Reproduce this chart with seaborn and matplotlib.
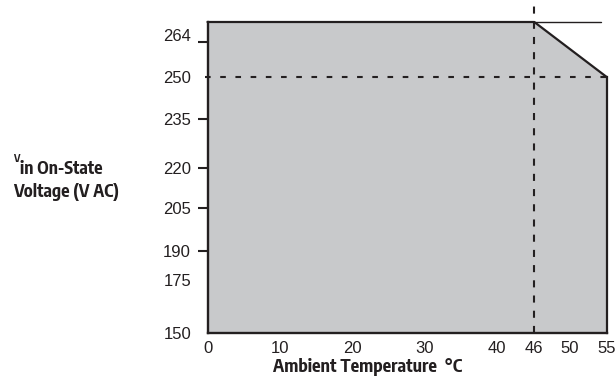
import numpy as np
import pandas as pd
import seaborn as sns
import matplotlib
matplotlib.use("Agg")
import matplotlib.pyplot as plt
from matplotlib import font_manager
from matplotlib.font_manager import FontProperties
from matplotlib.textpath import TextPath
from matplotlib.transforms import ScaledTranslation

# ---------------- data ----------------
temp_c = [0, 46, 55]            # derating envelope, ambient temperature (°C)
v_max = [272, 272, 250]         # max on-state voltage (V AC)
ext_temp = [46, 54.2]           # continuation of the top line past the knee
ext_v = [272, 272]
derate_temp = 46
derate_v = 250
v_floor = 150
x_ticks = [0, 10, 20, 30, 40, 46, 50, 55]
x_marked = [10, 20, 30, 40, 50]
y_ticks = [150, 175, 190, 205, 220, 235, 250, 264]
y_marked = [190, 205, 220, 235, 264]
x_title = 'Ambient Temperature  °C'
y_title_sup = 'V'
y_title_1 = 'in On-State'
y_title_2 = 'Voltage (V AC)'

# ---------------- style ----------------
sns.set_theme(style="white")
plt.rcParams['font.family'] = ['Liberation Sans', 'DejaVu Sans']
INK = '#231f20'
FILL = '#c8c9cb'
PX = 100 / 72.0


def _ext(fname, text, size=10.0):
    tp = TextPath((0, 0), text, size=size, prop=FontProperties(fname=fname))
    e = tp.get_extents()
    return e.width * PX, e.height * PX


def pick_bold_font(target_text, target_w, target_cap):
    best = None
    seen = set()
    for f in font_manager.fontManager.ttflist:
        tag = (f.name + ' ' + f.fname).lower()
        if f.fname in seen or 'cjk' in tag or 'mono' in tag or 'italic' in tag \
                or 'oblique' in tag or f.style != 'normal':
            continue
        if 'serif' in tag.replace('sans', ''):
            continue
        try:
            w = int(f.weight)
        except Exception:
            w = {'bold': 700, 'semibold': 600, 'heavy': 800, 'black': 900}.get(str(f.weight).lower(), 400)
        if w < 600 or w > 800:
            continue
        seen.add(f.fname)
        try:
            _, cap = _ext(f.fname, 'H')
            wid, _ = _ext(f.fname, target_text)
        except Exception:
            continue
        if cap <= 0 or wid <= 0:
            continue
        size_cap = 10.0 * target_cap / cap
        wid_at = wid * size_cap / 10.0
        score = abs(np.log(wid_at / target_w))
        if best is None or score < best[0]:
            best = (score, f.fname, wid)
    return best


_best = pick_bold_font(y_title_2, 105.0, 13.0)


def bold_fp(text, target_w):
    if _best is None:
        return FontProperties(family='DejaVu Sans', weight='bold', size=10)
    fname = _best[1]
    wid, _ = _ext(fname, text)
    return FontProperties(fname=fname, size=10.0 * target_w / wid)


# piecewise axis layouts (the original chart is not drawn to a linear scale)
xa_v = np.array([-100, 0, 10, 20, 30, 40, 46, 50, 55, 200], float)
xa_p = np.array([-720, 0, 72, 144.5, 217.5, 289.2, 326.8, 362.5, 399.2, 399.2 + 145 * 7.3])
ya_v = np.array([0, 150, 175, 190, 205, 220, 235, 250, 264, 272, 400], float)
ya_p = np.array([-375, 0, 53, 82.3, 124.7, 165.3, 214.3, 256, 291, 311, 311 + 128 * 2.5])

fx = lambda v: np.interp(v, xa_v, xa_p)
fxi = lambda p: np.interp(p, xa_p, xa_v)
fy = lambda v: np.interp(v, ya_v, ya_p)
fyi = lambda p: np.interp(p, ya_p, ya_v)

W, H = 615, 377
fig = plt.figure(figsize=(W / 100, H / 100), dpi=100)
fig.patch.set_facecolor('white')
ax = fig.add_axes([207.5 / W, 44 / H, 399.2 / W, 328.5 / H])
ax.set_facecolor('white')
ax.set_xscale('function', functions=(fx, fxi))
ax.set_yscale('function', functions=(fy, fyi))
ax.set_xlim(0, 55)
ax.set_ylim(150, 279)

# gray operating area
ax.fill_between(temp_c, v_floor, v_max, color=FILL, lw=0, zorder=1)

# envelope line
sns.lineplot(x=temp_c, y=v_max, ax=ax, color=INK, lw=1.6, sort=False,
             estimator=None, zorder=4, clip_on=False)
sns.lineplot(x=ext_temp, y=ext_v, ax=ax, color=INK, lw=1.0, sort=False,
             estimator=None, zorder=4, clip_on=False)
# right edge of the area
ax.plot([temp_c[-1], temp_c[-1]], [v_floor, v_max[-1]], color=INK, lw=1.6,
        clip_on=False, zorder=4, solid_capstyle='projecting')

# dashed reference lines
ax.plot([-0.3, temp_c[-1]], [derate_v, derate_v], color=INK, lw=1.5,
        linestyle=(0, (2.7, 4.6)), clip_on=False, zorder=3)
ax.plot([derate_temp, derate_temp], [v_floor, 278.4], color=INK, lw=1.5,
        linestyle=(0, (3.4, 3.9)), clip_on=False, zorder=3)

# spines
for s in ['top', 'right']:
    ax.spines[s].set_visible(False)
for s in ['left', 'bottom']:
    ax.spines[s].set_color(INK)
    ax.spines[s].set_linewidth(1.7)
    ax.spines[s].set_zorder(5)
ax.spines['left'].set_bounds(150, 272)

# ticks
x_minor = [t for t in x_ticks if t not in x_marked]
y_minor = [t for t in y_ticks if t not in y_marked]
ax.set_xticks(x_marked, labels=[str(t) for t in x_marked])
ax.set_xticks(x_minor, labels=[str(t) for t in x_minor], minor=True)
ax.set_yticks(y_marked, labels=[str(t) for t in y_marked])
ax.set_yticks(y_minor, labels=[str(t) for t in y_minor], minor=True)

TS = 12
ax.tick_params(axis='x', which='major', direction='in', length=8.6, width=1.5,
               color=INK, pad=5.8, labelsize=TS, labelcolor=INK, bottom=True)
ax.tick_params(axis='x', which='minor', direction='in', length=0, pad=5.8,
               labelsize=TS, labelcolor=INK, bottom=True)
ax.tick_params(axis='y', which='major', direction='inout', length=14.4, width=1.5,
               color=INK, pad=4.6, labelsize=TS, labelcolor=INK, left=True)
ax.tick_params(axis='y', which='minor', direction='in', length=0, pad=11.8,
               labelsize=TS, labelcolor=INK, left=True)

# the "264" label sits slightly above its tick in the original
for lab in ax.get_yticklabels():
    if lab.get_text() == '264':
        lab.set_transform(lab.get_transform() + ScaledTranslation(0, 7 / 100, fig.dpi_scale_trans))

# axis titles
ax.set_xlabel(x_title, color=INK, ha='left', va='baseline',
              fontproperties=bold_fp(x_title, 189.0))
ax.xaxis.set_label_coords((273 - 207.5) / 399.2, (333 - 371.7) / 328.5)

fp2 = bold_fp(y_title_2, 105.0)
fp_sup = fp2.copy()
fp_sup.set_size(fp2.get_size() * 0.6)
fig.text(13 / W, (H - 162) / H, y_title_sup, color=INK, ha='left', va='baseline',
         fontproperties=fp_sup)
fig.text(20 / W, (H - 174.5) / H, y_title_1, color=INK, ha='left',
         va='baseline', fontproperties=fp2)
fig.text(13 / W, (H - 196.7) / H, y_title_2, color=INK, ha='left',
         va='baseline', fontproperties=fp2)

fig.savefig('out.png', dpi=100, facecolor='white')
